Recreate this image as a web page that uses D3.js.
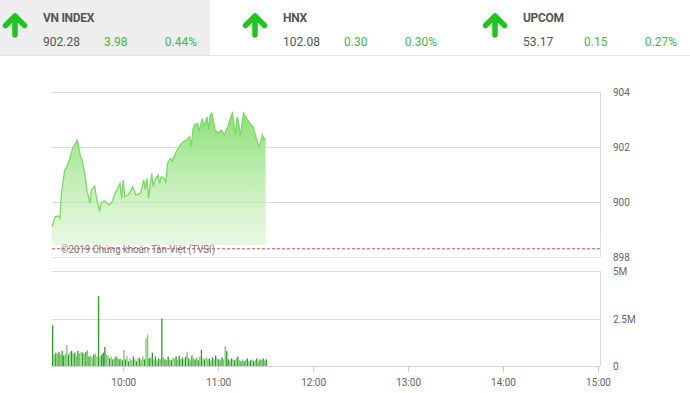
<!DOCTYPE html>
<html lang="vi">
<head>
    <meta charset="UTF-8">
    <title>VN INDEX intraday</title>
    <script src="https://d3js.org/d3.v7.min.js"></script>
    <style>
        body { margin: 0; background: #fff; font-family: Roboto, "Noto Sans", sans-serif; }
        svg { display: block; }
    </style>
</head>
<body>
<svg id="chart"></svg>
<script type="text/javascript">

    // index summary boxes
    var indexNames   = ["VN INDEX", "HNX", "UPCOM"];
    var indexValues  = ["902.28", "102.08", "53.17"];
    var indexChanges = ["3.98", "0.30", "0.15"];
    var indexPercent = ["0.44%", "0.30%", "0.27%"];

    // intraday price (time, value)
    var priceTimes = ["9:15","9:17","9:19","9:20","9:21","9:23","9:24","9:26","9:28","9:31",
        "9:33","9:34","9:36","9:37","9:39","9:40","9:42","9:43","9:45","9:46",
        "9:48","9:51","9:53","9:55","9:57","9:58","9:59","10:00","10:01","10:03",
        "10:05","10:06","10:08","10:11","10:13","10:14","10:15","10:16","10:18","10:19",
        "10:20","10:22","10:23","10:24","10:26","10:27","10:28","10:30","10:31","10:33",
        "10:34","10:36","10:38","10:40","10:42","10:43","10:44","10:45","10:47","10:48",
        "10:50","10:51","10:53","10:54","10:55","10:56","10:58","11:00","11:02","11:04",
        "11:06","11:08","11:09","11:11","11:12","11:13","11:14","11:16","11:18","11:20",
        "11:22","11:24","11:26","11:28","11:29","11:30"];
    var priceValues = [899.10,899.47,899.49,899.42,900.32,901.16,901.24,901.53,901.95,902.25,
        901.65,901.53,900.92,900.44,899.95,900.44,900.58,900.19,899.65,899.95,
        900.05,899.89,900.01,900.32,900.56,900.68,900.13,900.80,900.19,900.25,
        900.44,900.56,900.25,900.32,900.80,900.44,900.86,900.13,901.04,900.56,
        900.80,900.98,900.68,900.92,900.86,900.68,901.41,901.59,901.47,901.77,
        901.89,902.07,902.19,902.25,902.37,902.01,902.62,902.80,902.86,902.56,
        903.04,902.74,903.10,902.62,903.16,903.23,902.62,902.50,902.62,902.44,
        902.74,903.10,903.23,902.44,903.10,902.86,902.37,903.23,903.04,902.86,
        902.74,902.32,902.01,902.44,902.25,902.32];
    var refPrice = 898.30;

    // volume per minute from 9:15 (millions)
    var volStart = "9:15";
    var volValues = [2.15,0.60,0.70,0.65,0.75,0.60,0.80,0.55,0.65,1.10,
        0.60,0.75,0.80,0.65,0.70,0.55,0.80,0.65,0.75,0.70,
        0.65,0.75,0.85,0.50,0.55,0.45,0.60,0.65,0.50,3.68,
        0.50,0.60,0.70,1.00,0.60,0.55,0.40,0.50,0.35,0.40,
        0.50,0.45,0.35,0.40,0.30,0.85,0.35,0.50,0.25,0.40,
        0.30,0.50,0.35,0.25,0.45,0.40,0.30,0.50,0.35,1.45,
        1.65,0.40,0.45,0.70,0.35,0.50,0.30,0.40,0.35,2.50,
        0.45,0.35,0.30,0.50,0.35,0.30,0.45,0.40,0.50,0.35,
        0.55,0.35,0.45,0.35,0.50,0.75,0.40,0.30,0.55,0.40,
        0.35,0.45,0.30,0.50,0.85,0.40,0.35,0.45,0.35,0.40,
        0.30,0.45,0.35,0.55,0.40,0.35,0.30,0.45,0.35,1.05,
        0.80,0.35,0.30,0.40,0.35,0.30,0.40,0.50,0.30,0.25,
        0.35,0.25,0.30,0.40,0.25,0.30,0.35,0.25,0.30,0.40,
        0.25,0.35,0.30,0.40,0.30,0.35];
    // d = dark green bar, l = light green bar
    var volSide = "dldldlddll" + "dldldldlld" + "ldldlldlld" + "ldddlldldl" + "dldldldldl" +
                  "ldldldlldl" + "ldldldldld" + "ldldldlldl" + "dldldldldl" + "dldldldlld" +
                  "ldldldldll" + "ddldldldld" + "ldldldldld" + "ldldld";

    var priceTicks = [898, 900, 902, 904];
    var volTicks   = [0, 2.5, 5];
    var volTickLabels = ["0", "2.5M", "5M"];
    var timeTicks  = ["10:00", "11:00", "12:00", "13:00", "14:00", "15:00"];
    var sessionStart = "9:15", sessionEnd = "15:00";
    var copyright = "©2019 Chứng khoán Tân Việt (TVSI)";

    var width = 690, height = 393;
    var svg = d3.select("#chart").attr("width", width).attr("height", height);

    var parse = d3.timeParse("%H:%M");
    var left = 52, right = 600;

    var x = d3.scaleTime()
        .domain([parse(sessionStart), parse(sessionEnd)])
        .range([left, 598]);
    var yPrice = d3.scaleLinear().domain([898, 904]).range([257, 92]);
    var yVol = d3.scaleLinear().domain([0, 5]).range([366, 271]);

    // ---- header ----
    svg.append("rect").attr("x", 0).attr("y", 0).attr("width", 210).attr("height", 55).attr("fill", "#eeeeee");
    svg.append("line").attr("x1", 0).attr("x2", width).attr("y1", 55.5).attr("y2", 55.5)
        .attr("stroke", "#e4e4e4");

    var box = svg.selectAll("g.box").data(indexNames).enter().append("g")
        .attr("class", "box")
        .attr("transform", function(d, i) { return "translate(" + (i * 240) + ",0)"; });

    box.append("path")
        .attr("d", "M15,35 L15,18 M5.5,25.5 L15,16 L24.5,25.5")
        .attr("fill", "none")
        .attr("stroke", "#1fc41f")
        .attr("stroke-width", 5.5)
        .attr("stroke-linecap", "round")
        .attr("stroke-linejoin", "round");

    box.append("text").attr("x", 43).attr("y", 22)
        .attr("font-size", 12).attr("font-weight", "bold").attr("fill", "#555")
        .attr("letter-spacing", -0.3)
        .text(function(d) { return d; });
    box.append("text").attr("x", 43).attr("y", 46)
        .attr("font-size", 12).attr("fill", "#555")
        .text(function(d, i) { return indexValues[i]; });
    box.append("text").attr("x", 104).attr("y", 46)
        .attr("font-size", 12).attr("fill", "#3dbb3d")
        .text(function(d, i) { return indexChanges[i]; });
    box.append("text").attr("x", 197).attr("y", 46)
        .attr("font-size", 12).attr("fill", "#3dbb3d").attr("text-anchor", "end")
        .text(function(d, i) { return indexPercent[i]; });

    // ---- price panel ----
    var defs = svg.append("defs");
    var grad = defs.append("linearGradient").attr("id", "areaGrad")
        .attr("x1", 0).attr("x2", 0).attr("y1", 0).attr("y2", 1);
    grad.append("stop").attr("offset", "0%").attr("stop-color", "#86de70").attr("stop-opacity", 0.95);
    grad.append("stop").attr("offset", "100%").attr("stop-color", "#d3f3c9").attr("stop-opacity", 0.55);

    svg.selectAll("line.pgrid").data(priceTicks.slice(1)).enter().append("line")
        .attr("class", "pgrid")
        .attr("x1", left).attr("x2", right)
        .attr("y1", function(d) { return Math.round(yPrice(d)) + 0.5; })
        .attr("y2", function(d) { return Math.round(yPrice(d)) + 0.5; })
        .attr("stroke", "#dcdcdc");
    svg.append("line").attr("x1", left).attr("x2", right)
        .attr("y1", yPrice(898) + 0.5).attr("y2", yPrice(898) + 0.5).attr("stroke", "#e2e2e2");
    svg.append("line").attr("x1", right + 0.5).attr("x2", right + 0.5)
        .attr("y1", yPrice(904)).attr("y2", yPrice(898)).attr("stroke", "#dcdcdc");

    var pts = priceTimes.map(function(t, i) { return { t: parse(t), v: priceValues[i] }; });

    var area = d3.area()
        .x(function(d) { return x(d.t); })
        .y0(yPrice(898.45))
        .y1(function(d) { return yPrice(d.v); });
    var line = d3.line()
        .x(function(d) { return x(d.t); })
        .y(function(d) { return yPrice(d.v); });

    svg.append("path").datum(pts).attr("d", area).attr("fill", "url(#areaGrad)");
    svg.append("path").datum(pts).attr("d", line)
        .attr("fill", "none").attr("stroke", "#7bda66").attr("stroke-width", 1.3);

    svg.append("text").attr("x", 61).attr("y", 253)
        .attr("font-size", 10.5).attr("fill", "#777")
        .attr("textLength", 154).attr("lengthAdjust", "spacingAndGlyphs")
        .text(copyright);

    svg.append("line").attr("x1", left).attr("x2", right)
        .attr("y1", yPrice(refPrice)).attr("y2", yPrice(refPrice))
        .attr("stroke", "#e04848").attr("stroke-width", 1).attr("stroke-dasharray", "3,2");

    svg.selectAll("text.plabel").data(priceTicks).enter().append("text")
        .attr("class", "plabel")
        .attr("x", 613).attr("y", function(d) { return yPrice(d) + 4; })
        .attr("font-size", 10).attr("fill", "#666")
        .text(function(d) { return d; });

    // ---- volume panel ----
    svg.selectAll("line.vgrid").data(volTicks.slice(1)).enter().append("line")
        .attr("class", "vgrid")
        .attr("x1", left).attr("x2", right)
        .attr("y1", function(d) { return Math.round(yVol(d)) + 0.5; })
        .attr("y2", function(d) { return Math.round(yVol(d)) + 0.5; })
        .attr("stroke", "#dcdcdc");
    svg.append("line").attr("x1", right + 0.5).attr("x2", right + 0.5)
        .attr("y1", yVol(5)).attr("y2", yVol(0)).attr("stroke", "#dcdcdc");

    var t0 = parse(volStart);
    svg.selectAll("rect.vol").data(volValues).enter().append("rect")
        .attr("class", "vol")
        .attr("x", function(d, i) { return x(d3.timeMinute.offset(t0, i)); })
        .attr("width", 1.3)
        .attr("y", function(d) { return yVol(d); })
        .attr("height", function(d) { return yVol(0) - yVol(d); })
        .attr("fill", function(d, i) { return volSide[i] === "d" ? "#2a9a2a" : "#78cc68"; });

    svg.append("line").attr("x1", left).attr("x2", right)
        .attr("y1", yVol(0) + 0.5).attr("y2", yVol(0) + 0.5).attr("stroke", "#d4d4d4");

    svg.selectAll("text.vlabel").data(volTicks).enter().append("text")
        .attr("class", "vlabel")
        .attr("x", 613).attr("y", function(d) { return yVol(d) + 4; })
        .attr("font-size", 10).attr("fill", "#666")
        .text(function(d, i) { return volTickLabels[i]; });

    // ---- time axis ----
    var xAxis = d3.axisBottom(x)
        .tickValues(timeTicks.map(parse))
        .tickFormat(d3.timeFormat("%H:%M"))
        .tickSize(6)
        .tickSizeOuter(0);
    var gx = svg.append("g").attr("transform", "translate(0," + yVol(0) + ")").call(xAxis);
    gx.select(".domain").remove();
    gx.selectAll(".tick line").attr("stroke", "#ccc");
    gx.selectAll(".tick text").attr("fill", "#666").attr("font-size", 10)
        .attr("font-family", "Roboto, sans-serif").attr("dy", "1.1em");

</script>
</body>
</html>
